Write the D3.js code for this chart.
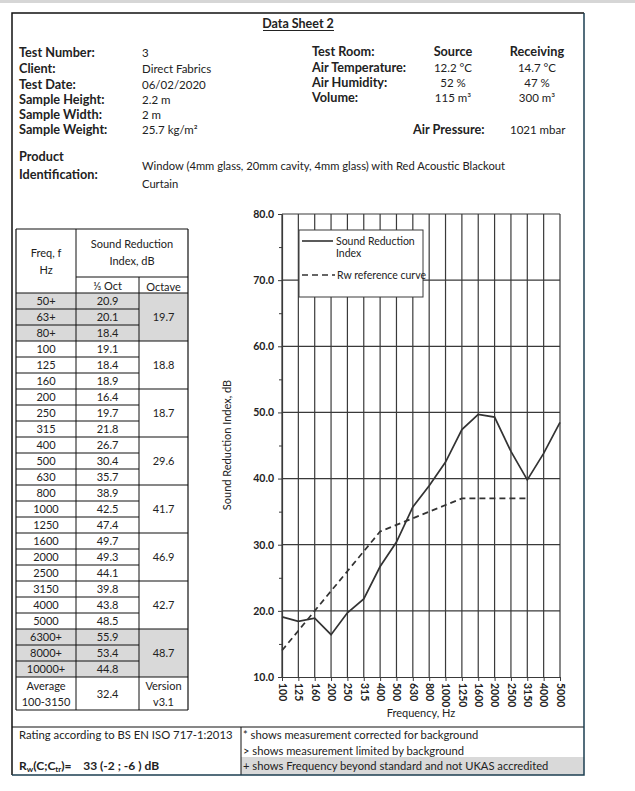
<!DOCTYPE html>
<html><head><meta charset="utf-8">
<script src="https://cdn.jsdelivr.net/npm/d3@7"></script>
<style>
html,body{margin:0;padding:0;background:#fff;}
svg{display:block;font-family:Lato,"Open Sans",sans-serif;}
</style></head>
<body>
<svg id="c" width="635" height="791"></svg>
<script>
// ---------- DATA ----------
const infoLabels = ["Test Number:", "Client:", "Test Date:", "Sample Height:", "Sample Width:", "Sample Weight:"];
const infoValues = ["3", "Direct Fabrics", "06/02/2020", "2.2 m", "2 m", "25.7 kg/m²"];
const roomLabels = ["Test Room:", "Air Temperature:", "Air Humidity:", "Volume:"];
const sourceValues = ["Source", "12.2 °C", "52 %", "115 m³"];
const receivingValues = ["Receiving", "14.7 °C", "47 %", "300 m³"];
const productLines = ["Window (4mm glass, 20mm cavity, 4mm glass) with Red Acoustic Blackout", "Curtain"];

const tableFreqs = ["50+","63+","80+","100","125","160","200","250","315","400","500","630","800","1000","1250","1600","2000","2500","3150","4000","5000","6300+","8000+","10000+"];
const thirdOctave = [20.9,20.1,18.4,19.1,18.4,18.9,16.4,19.7,21.8,26.7,30.4,35.7,38.9,42.5,47.4,49.7,49.3,44.1,39.8,43.8,48.5,55.9,53.4,44.8];
const octaveValues = [19.7,18.8,18.7,29.6,41.7,46.9,42.7,48.7];
const shadedRows = [0,1,2,21,22,23];
const averageValue = 32.4;
const versionLabel = "v3.1";

const chartFreqs = ["100","125","160","200","250","315","400","500","630","800","1000","1250","1600","2000","2500","3150","4000","5000"];
const sriValues = [19.1,18.4,18.9,16.4,19.7,21.8,26.7,30.4,35.7,38.9,42.5,47.4,49.7,49.3,44.1,39.8,43.8,48.5];
const rwRefFreqs = ["100","125","160","200","250","315","400","500","630","800","1000","1250","1600","2000","2500","3150"];
const rwRefValues = [14,17,20,23,26,29,32,33,34,35,36,37,37,37,37,37];
const yMajorTicks = [10,20,30,40,50,60,70,80];
const yMinorTicks = [15,25,35,45,55,65,75];

const footNotes = ["* shows measurement corrected for background", "> shows measurement limited by background", "+ shows Frequency beyond standard and not UKAS accredited"];

// ---------- DRAW ----------
const svg = d3.select("#c");
const ink = "#333";
const txt = "#222";

// top gray strip
svg.append("rect").attr("x",0).attr("y",0).attr("width",635).attr("height",3).attr("fill","#d6d6d6");

// page border
const B = {l:12, t:13, r:584, b:775};
svg.append("path").attr("d",`M${B.r},${B.t}H${B.l}V${B.b}`).attr("fill","none").attr("stroke","#111").attr("stroke-width",1.5);

// title
svg.append("text").attr("x",298).attr("y",28).attr("text-anchor","middle").attr("font-size",12.5).attr("font-weight","bold").attr("fill",txt).text("Data Sheet 2");
svg.append("line").attr("x1",263).attr("x2",334).attr("y1",30.5).attr("y2",30.5).attr("stroke",txt).attr("stroke-width",1);

// info block
const labelSize = 12.7, valueSize = 11.5;
const infoY = [57,73,89,104,119,134];
infoLabels.forEach((t,i)=>{
  svg.append("text").attr("x",19).attr("y",infoY[i]).attr("font-size",labelSize).attr("font-weight","bold").attr("fill",txt).text(t);
  svg.append("text").attr("x",142).attr("y",infoY[i]).attr("font-size",valueSize).attr("fill",txt).text(infoValues[i]);
});
const roomY = [56,72,87,102];
roomLabels.forEach((t,i)=>{
  svg.append("text").attr("x",312).attr("y",roomY[i]).attr("font-size",labelSize).attr("font-weight","bold").attr("fill",txt).text(t);
  svg.append("text").attr("x",453).attr("y",roomY[i]).attr("text-anchor","middle").attr("font-size",i===0?labelSize:valueSize).attr("font-weight",i===0?"bold":"normal").attr("fill",txt).text(sourceValues[i]);
  svg.append("text").attr("x",537).attr("y",roomY[i]).attr("text-anchor","middle").attr("font-size",i===0?labelSize:valueSize).attr("font-weight",i===0?"bold":"normal").attr("fill",txt).text(receivingValues[i]);
});
svg.append("text").attr("x",413).attr("y",134).attr("font-size",labelSize).attr("font-weight","bold").attr("fill",txt).text("Air Pressure:");
svg.append("text").attr("x",510).attr("y",134).attr("font-size",valueSize).attr("fill",txt).text("1021 mbar");

svg.append("text").attr("x",19).attr("y",161).attr("font-size",labelSize).attr("font-weight","bold").attr("fill",txt).text("Product");
svg.append("text").attr("x",19).attr("y",179).attr("font-size",labelSize).attr("font-weight","bold").attr("fill",txt).text("Identification:");
productLines.forEach((t,i)=>{
  svg.append("text").attr("x",142).attr("y",170+18*i).attr("font-size",11.2).attr("fill",txt).text(t);
});

// ---------- TABLE ----------
const T = {x0:16, x1:76, x2:139, x3:188, top:229, h1:277, h2:293, rowH:16};
const nRows = tableFreqs.length;
const dataBottom = T.h2 + nRows*T.rowH;
const tBottom = dataBottom + 33;
const tg = svg.append("g");
shadedRows.forEach(r=>{
  tg.append("rect").attr("x",T.x0).attr("y",T.h2+r*T.rowH).attr("width",T.x3-T.x0).attr("height",T.rowH).attr("fill","#d9d9d9");
});
const tl = (x1,y1,x2,y2,w)=>tg.append("line").attr("x1",x1).attr("y1",y1).attr("x2",x2).attr("y2",y2).attr("stroke","#111").attr("stroke-width",w||1);
tl(T.x0,T.top,T.x3,T.top,1.2);
tl(T.x1,T.h1,T.x3,T.h1);
tl(T.x0,T.h2,T.x3,T.h2,1.2);
tl(T.x0,T.top,T.x0,tBottom,1.2);
tl(T.x1,T.top,T.x1,tBottom);
tl(T.x2,T.h1,T.x2,tBottom);
tl(T.x3,T.top,T.x3,tBottom,1.2);
tl(T.x0,tBottom,T.x3,tBottom,1.2);
for(let i=0;i<nRows;i++){
  const yb = T.h2+(i+1)*T.rowH;
  const full = (i+1)%3===0;
  tl(T.x0,yb,full?T.x3:T.x2,yb,full?1.2:1);
}
const cx1=(T.x0+T.x1)/2, cx2=(T.x1+T.x2)/2, cx3=(T.x2+T.x3)/2;
const tt = (x,y,t)=>tg.append("text").attr("x",x).attr("y",y).attr("text-anchor","middle").attr("font-size",11).attr("fill",txt).text(t);
tt(cx1,257,"Freq, f");
tt(cx1,274,"Hz");
tt((T.x1+T.x3)/2,248,"Sound Reduction");
tt((T.x1+T.x3)/2,265,"Index, dB");
tt(cx2,290,"⅓ Oct");
tt(cx3,290.5,"Octave");
tableFreqs.forEach((f,i)=>{
  const yc = T.h2+i*T.rowH+T.rowH/2+4;
  tt(cx1,yc,f);
  tt(cx2,yc,d3.format(".1f")(thirdOctave[i]));
});
octaveValues.forEach((v,g)=>{
  tt(cx3,T.h2+(g*3+1.5)*T.rowH+4,d3.format(".1f")(v));
});
tt(cx1,dataBottom+13,"Average");
tt(cx1,dataBottom+29,"100-3150");
tt(cx2,dataBottom+21,d3.format(".1f")(averageValue));
tt(cx3,dataBottom+13,"Version");
tt(cx3,dataBottom+29,versionLabel);

// ---------- CHART ----------
const x = d3.scalePoint().domain(chartFreqs).range([282,560]);
const y = d3.scaleLinear().domain([10,80]).range([677,214]);
const cg = svg.append("g");
const grid = "#3a3a3a";
cg.selectAll("line.hg").data(yMajorTicks.slice(1)).join("line")
  .attr("x1",282).attr("x2",560).attr("y1",d=>y(d)).attr("y2",d=>y(d))
  .attr("stroke",grid).attr("stroke-width",1.2);
cg.selectAll("line.vg").data(chartFreqs).join("line")
  .attr("x1",d=>x(d)).attr("x2",d=>x(d)).attr("y1",y(10)).attr("y2",y(80))
  .attr("stroke",grid).attr("stroke-width",1.2);

const yAx = cg.append("g").attr("transform","translate(282,0)")
  .call(d3.axisLeft(y).tickValues(yMajorTicks).tickFormat(d3.format(".1f")).tickSize(4).tickSizeOuter(0));
yAx.select(".domain").attr("stroke",grid).attr("stroke-width",1.2);
yAx.selectAll(".tick line").attr("stroke",grid);
yAx.selectAll("text").attr("font-family","Lato, sans-serif").attr("font-size",10.5).attr("font-weight","bold").attr("fill",txt).attr("x",-8);
const yMin = cg.append("g").attr("transform","translate(282,0)")
  .call(d3.axisLeft(y).tickValues(yMinorTicks).tickFormat("").tickSize(3).tickSizeOuter(0));
yMin.select(".domain").remove();
yMin.selectAll(".tick line").attr("stroke",grid);

const xAx = cg.append("g").attr("transform",`translate(0,${y(10)})`)
  .call(d3.axisBottom(x).tickSize(4).tickSizeOuter(0));
xAx.select(".domain").attr("stroke",grid).attr("stroke-width",1.2);
xAx.selectAll(".tick line").attr("stroke",grid);
xAx.selectAll("text").attr("font-family","Lato, sans-serif").attr("font-size",10.5).attr("font-weight","bold").attr("fill",txt)
  .attr("transform","rotate(90)").attr("text-anchor","start").attr("x",6).attr("y",0).attr("dy","0.35em");

// legend box
const lg = cg.append("g");
lg.append("rect").attr("x",299).attr("y",230).attr("width",124).attr("height",67).attr("fill","#fff").attr("stroke",grid).attr("stroke-width",1);
lg.append("line").attr("x1",302).attr("x2",333).attr("y1",241).attr("y2",241).attr("stroke",ink).attr("stroke-width",1.6);
lg.append("text").attr("x",336).attr("y",245).attr("font-size",10.5).attr("fill",txt).text("Sound Reduction");
lg.append("text").attr("x",336).attr("y",257).attr("font-size",10.5).attr("fill",txt).text("Index");
lg.append("line").attr("x1",302).attr("x2",335).attr("y1",275).attr("y2",275).attr("stroke",ink).attr("stroke-width",1.6).attr("stroke-dasharray","6,4");
lg.append("text").attr("x",337).attr("y",279).attr("font-size",10.5).attr("fill",txt).text("Rw reference curve");

// curves
const line = d3.line().x(d=>x(d[0])).y(d=>y(d[1]));
cg.append("path").datum(chartFreqs.map((f,i)=>[f,sriValues[i]])).attr("d",line)
  .attr("fill","none").attr("stroke",ink).attr("stroke-width",1.7);
cg.append("path").datum(rwRefFreqs.map((f,i)=>[f,rwRefValues[i]])).attr("d",line)
  .attr("fill","none").attr("stroke",ink).attr("stroke-width",1.7).attr("stroke-dasharray","6,4");

cg.append("text").attr("transform","translate(231,445) rotate(-90)").attr("text-anchor","middle").attr("font-size",11).attr("fill",txt).text("Sound Reduction Index, dB");
cg.append("text").attr("x",421).attr("y",717).attr("text-anchor","middle").attr("font-size",11).attr("fill",txt).text("Frequency, Hz");

// ---------- FOOTER ----------
svg.append("rect").attr("x",241).attr("y",757).attr("width",B.r-241).attr("height",B.b-757).attr("fill","#d9d9d9");
svg.append("line").attr("x1",B.l).attr("x2",B.r).attr("y1",727).attr("y2",727).attr("stroke","#111").attr("stroke-width",1.2);
svg.append("line").attr("x1",241).attr("x2",241).attr("y1",727).attr("y2",B.b).attr("stroke","#111").attr("stroke-width",1);
svg.append("text").attr("x",19).attr("y",739).attr("font-size",11.3).attr("fill",txt).text("Rating according to BS EN ISO 717-1:2013");
const rw = svg.append("text").attr("x",19).attr("y",770).attr("font-size",12).attr("font-weight","bold").attr("fill",txt);
rw.append("tspan").text("R");
rw.append("tspan").attr("font-size",8).attr("dy",2).text("w");
rw.append("tspan").attr("dy",-2).text("(C;C");
rw.append("tspan").attr("font-size",8).attr("dy",2).text("tr");
rw.append("tspan").attr("dy",-2).text(")=\u00a0\u00a0\u00a0 33 (-2 ; -6 ) dB");
footNotes.forEach((t,i)=>{
  svg.append("text").attr("x",243).attr("y",739+15.5*i).attr("font-size",11.2).attr("fill",txt).text(t);
});
// right/bottom border on top
svg.append("path").attr("d",`M${B.l},${B.b}H${B.r}V${B.t}`).attr("fill","none").attr("stroke","#1d3f52").attr("stroke-width",1.5);
</script>
</body></html>
